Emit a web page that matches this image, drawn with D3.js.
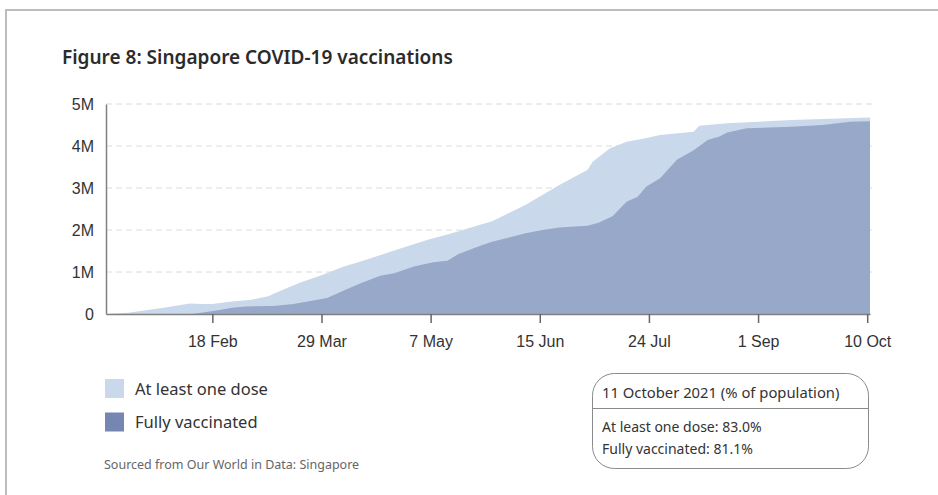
<!DOCTYPE html>
<html>
<head>
<meta charset="utf-8">
<script src="https://cdn.jsdelivr.net/npm/d3@7"></script>
<style>
  html, body { margin: 0; padding: 0; background: #fff; }
  svg { display: block; font-family: "Noto Sans", "Open Sans", sans-serif; }
</style>
</head>
<body>
<svg id="chart" width="938" height="495"></svg>
<script>
// Cumulative people vaccinated in Singapore, 2021 (millions)
const oneDoseDates = ["2021-01-11","2021-01-19","2021-01-31","2021-02-10","2021-02-14","2021-02-18","2021-02-25","2021-03-04","2021-03-10","2021-03-14","2021-03-21","2021-03-29","2021-04-06","2021-04-12","2021-04-24","2021-05-06","2021-05-13","2021-05-17","2021-05-25","2021-05-29","2021-06-10","2021-06-22","2021-07-02","2021-07-04","2021-07-10","2021-07-16","2021-07-22","2021-07-28","2021-08-09","2021-08-11","2021-08-21","2021-09-13","2021-10-11"];
const oneDoseValues = [0,0.03,0.14,0.25,0.24,0.24,0.30,0.34,0.42,0.54,0.74,0.92,1.13,1.25,1.51,1.77,1.89,1.97,2.13,2.21,2.60,3.07,3.43,3.63,3.94,4.10,4.17,4.26,4.34,4.48,4.54,4.62,4.68];

const fullDates = ["2021-01-11","2021-02-11","2021-02-14","2021-02-20","2021-02-25","2021-03-02","2021-03-12","2021-03-19","2021-03-26","2021-03-31","2021-04-06","2021-04-12","2021-04-19","2021-04-24","2021-05-01","2021-05-08","2021-05-13","2021-05-17","2021-05-25","2021-05-29","2021-06-10","2021-06-16","2021-06-22","2021-07-02","2021-07-06","2021-07-11","2021-07-16","2021-07-20","2021-07-23","2021-07-28","2021-08-03","2021-08-09","2021-08-14","2021-08-18","2021-08-21","2021-08-28","2021-09-13","2021-09-24","2021-10-04","2021-10-11"];
const fullValues = [0,0,0.03,0.09,0.15,0.18,0.19,0.24,0.32,0.38,0.56,0.73,0.91,0.97,1.13,1.23,1.27,1.43,1.63,1.72,1.92,2.00,2.06,2.10,2.17,2.33,2.67,2.79,3.03,3.23,3.67,3.90,4.14,4.22,4.32,4.42,4.46,4.50,4.58,4.59];

const xTickDates = ["2021-02-18","2021-03-29","2021-05-07","2021-06-15","2021-07-24","2021-09-01","2021-10-10"];
const yTicks = [0, 1, 2, 3, 4, 5];

const seriesNames = ["At least one dose", "Fully vaccinated"];
const summaryTitle = "11 October 2021 (% of population)";
const summaryLines = ["At least one dose: 83.0%", "Fully vaccinated: 81.1%"];

const parse = d3.timeParse("%Y-%m-%d");
const oneDose = oneDoseDates.map((d, i) => ({ date: parse(d), value: oneDoseValues[i] }));
const full = fullDates.map((d, i) => ({ date: parse(d), value: fullValues[i] }));

const svg = d3.select("#chart");

// outer frame
svg.append("path")
  .attr("d", "M6,500 L6,10 L940,10")
  .attr("fill", "none")
  .attr("stroke", "#bdbdbd")
  .attr("stroke-width", 2);

svg.append("text")
  .attr("x", 62).attr("y", 64)
  .attr("font-size", 19).attr("font-weight", 600)
  .attr("fill", "#2b2b2b")
  .text("Figure 8: Singapore COVID-19 vaccinations");

const plotLeft = 106, plotRight = 870, plotTop = 104, plotBottom = 314;

const x = d3.scaleTime()
  .domain([parse("2021-01-11"), parse("2021-10-11")])
  .range([plotLeft, plotRight]);
const y = d3.scaleLinear().domain([0, 5]).range([plotBottom, plotTop]);

// gridlines
svg.append("g")
  .selectAll("line")
  .data(yTicks.filter(t => t > 0))
  .join("line")
  .attr("x1", plotLeft).attr("x2", plotRight + 2)
  .attr("y1", d => y(d)).attr("y2", d => y(d))
  .attr("stroke", "#dcdcdc")
  .attr("stroke-dasharray", "6,4");

const area = d3.area()
  .x(d => x(d.date))
  .y0(y(0))
  .y1(d => y(d.value));

svg.append("path").datum(oneDose)
  .attr("d", area)
  .attr("fill", "#c9d8ea");
svg.append("path").datum(full)
  .attr("d", area)
  .attr("fill", "#97a8c8");

// y axis: line plus labels, no ticks
const yAxis = d3.axisLeft(y)
  .tickValues(yTicks)
  .tickSize(0)
  .tickPadding(12)
  .tickFormat(d => d === 0 ? "0" : d + "M");
const gy = svg.append("g").attr("transform", `translate(${plotLeft},0)`).call(yAxis);
gy.select(".domain").attr("stroke", "#808080").attr("stroke-width", 1.5);
gy.selectAll("text").attr("font-size", 16).attr("fill", "#333").attr("font-family", null);

// x axis
const xAxis = d3.axisBottom(x)
  .tickValues(xTickDates.map(parse))
  .tickSizeInner(9).tickSizeOuter(0)
  .tickPadding(13)
  .tickFormat(d3.timeFormat("%-d %b"));
const gx = svg.append("g").attr("transform", `translate(0,${plotBottom})`).call(xAxis);
gx.select(".domain").attr("stroke", "#808080").attr("stroke-width", 1.5);
gx.selectAll(".tick line").attr("stroke", "#666").attr("stroke-width", 1.5);
gx.selectAll("text").attr("font-size", 16).attr("fill", "#333").attr("font-family", null);

// legend
const legendColors = ["#c9d8ea", "#7486b1"];
const legend = svg.append("g");
seriesNames.forEach((name, i) => {
  legend.append("rect")
    .attr("x", 105).attr("y", 379 + i * 33.5)
    .attr("width", 19).attr("height", 19)
    .attr("fill", legendColors[i]);
  legend.append("text")
    .attr("x", 135).attr("y", 394.5 + i * 33.5)
    .attr("font-size", 16.5).attr("fill", "#333")
    .text(name);
});

svg.append("text")
  .attr("x", 104).attr("y", 469)
  .attr("font-size", 12.5).attr("fill", "#666")
  .text("Sourced from Our World in Data: Singapore");

// summary box
const box = svg.append("g");
box.append("rect")
  .attr("x", 592.5).attr("y", 373.5)
  .attr("width", 276).attr("height", 95)
  .attr("rx", 22).attr("ry", 22)
  .attr("fill", "#fff").attr("stroke", "#8a8a8a").attr("stroke-width", 1);
box.append("line")
  .attr("x1", 592.5).attr("x2", 868.5)
  .attr("y1", 408.5).attr("y2", 408.5)
  .attr("stroke", "#8a8a8a");
box.append("text")
  .attr("x", 602).attr("y", 397.5)
  .attr("font-size", 14.8).attr("fill", "#333")
  .text(summaryTitle);
summaryLines.forEach((t, i) => {
  box.append("text")
    .attr("x", 602).attr("y", 431.5 + i * 22.5)
    .attr("font-size", 14).attr("fill", "#333")
    .text(t);
});
</script>
</body>
</html>
